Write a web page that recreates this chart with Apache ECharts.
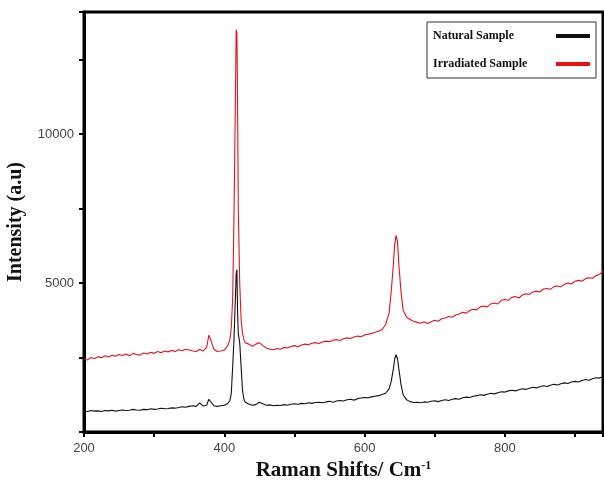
<!DOCTYPE html>
<html>
<head>
<meta charset="UTF-8">
<title>Raman</title>
<script src="https://cdn.jsdelivr.net/npm/echarts@6/dist/echarts.min.js"></script>
<style>
  html, body { margin: 0; padding: 0; background: #fff; }
  #main { width: 604px; height: 482px; }
</style>
</head>
<body>
<div id="main"></div>
<script>
// Raman shift (cm-1)
var shifts = [
  200, 205, 210, 215, 220, 225, 230, 235, 240, 245,
  250, 255, 260, 265, 270, 275, 280, 285, 290, 295,
  300, 305, 310, 315, 320, 325, 330, 335, 340, 345,
  350, 355,
  360, 365, 370, 375, 378, 380, 385, 390, 395, 400,
  405, 408, 410, 412, 414, 416, 417, 418, 419, 420,
  422, 424, 426, 428, 430, 435, 440, 445, 450, 455,
  460,
  465, 470, 475, 480, 485, 490, 495, 500, 505, 510,
  515, 520, 525, 530, 535, 540, 545, 550, 555, 560,
  565, 570, 575, 580, 585, 590, 595, 600, 605, 610,
  615, 620, 625,
  630, 635, 638, 641, 643, 645, 647, 649, 652, 655, 660,
  665, 670, 675, 680, 685, 690, 695, 700, 705, 710,
  715, 720, 725, 730, 735, 740, 745, 750, 755, 760,
  765, 770, 775, 780, 785, 790, 795, 800, 805, 810,
  815, 820, 825, 830, 835, 840, 845, 850, 855, 860,
  865, 870, 875, 880, 885, 890, 895, 900, 905, 910,
  915, 920, 925, 930, 935, 940
];

var natural = [
  700, 690, 720, 700, 710, 690, 720, 710, 730, 700,
  720, 740, 720, 730, 760, 740, 730, 760, 750, 780,
  760, 770, 800, 780, 790, 810, 800, 820, 850, 830,
  860, 880,
  860, 980, 870, 900, 1100, 1060, 880, 860, 880, 900,
  960, 1050, 1300, 2200, 3200, 4600, 5300, 5450, 4000, 3300,
  3000, 2200, 1400, 1100, 1000, 940, 900, 920, 1000, 950,
  900,
  910, 880, 900, 890, 920, 900, 930, 950, 930, 960,
  950, 980, 960, 990, 1000, 980, 1010, 1030, 1000, 1040,
  1060, 1040, 1080, 1100, 1070, 1120, 1140, 1160, 1150, 1180,
  1200, 1220, 1260,
  1300, 1450, 1700, 2100, 2450, 2600, 2450, 2100, 1600, 1250, 1080,
  1020, 990, 1000, 980, 1010, 1000, 1030, 1050, 1020, 1060,
  1080, 1060, 1100, 1120, 1100, 1150, 1170, 1160, 1200, 1220,
  1250, 1230, 1270, 1300, 1280, 1320, 1350, 1340, 1380, 1400,
  1380, 1420, 1450, 1430, 1470, 1500, 1480, 1520, 1550, 1530,
  1570, 1600, 1580, 1620, 1650, 1630, 1680, 1700, 1680, 1730,
  1760, 1740, 1790, 1820, 1810, 1860
];

var irradiated = [
  2450, 2420, 2500, 2470, 2530, 2490, 2560, 2520, 2580, 2540,
  2600, 2570, 2620, 2560, 2640, 2600, 2580, 2650, 2620, 2680,
  2640, 2700, 2660, 2720, 2690, 2740, 2700, 2760, 2730, 2780,
  2750, 2720,
  2700, 2780, 2720, 2850, 3250, 3150, 2780, 2700, 2720, 2750,
  2900, 3100, 3500, 4500, 7500, 11500, 13500, 13400, 11000, 7500,
  5000, 3800, 3300, 3100, 3000, 2950, 2880, 2950, 3000, 2900,
  2820,
  2780, 2760, 2800, 2780, 2840, 2820, 2870, 2900, 2860, 2920,
  2950, 2930, 2980, 3000, 2970, 3020, 3050, 3030, 3080, 3100,
  3070, 3130, 3160, 3140, 3190, 3220, 3200, 3260, 3280, 3310,
  3350, 3380, 3440,
  3600, 4000, 4700, 5600, 6300, 6600, 6400, 5600, 4700, 4100, 3850,
  3780, 3720, 3680, 3650, 3700, 3640, 3700, 3750, 3720, 3800,
  3830, 3880, 3850, 3930, 3960, 4020, 3990, 4080, 4120, 4100,
  4200, 4230, 4200, 4300, 4330, 4300, 4420, 4450, 4420, 4520,
  4550, 4500, 4600, 4640, 4620, 4700, 4730, 4700, 4800, 4820,
  4790, 4880, 4900, 4870, 4960, 5000, 4970, 5060, 5090, 5060,
  5150, 5180, 5160, 5250, 5290, 5400
];

var xLabels = [200, 400, 600, 800];
var yLabels = [5000, 10000];

function pairs(xs, ys) {
  var out = [];
  for (var i = 0; i < xs.length; i++) out.push([xs[i], ys[i]]);
  return out;
}

var chart = echarts.init(document.getElementById('main'));

var serif = '"Liberation Serif", "DejaVu Serif", serif';
var sans = '"Liberation Sans", Arial, sans-serif';

var option = {
  animation: false,
  grid: {
    left: 84, right: 1, top: 12, bottom: 50,
    outerBoundsMode: 'none',
    containLabel: false,
    show: true, borderColor: '#000', borderWidth: 3
  },
  legend: {
    orient: 'vertical',
    right: 8, top: 22,
    align: 'right',
    padding: [8, 6, 8, 6],
    itemGap: 16,
    itemWidth: 34,
    itemHeight: 4,
    borderColor: '#333',
    borderWidth: 1,
    icon: 'rect',
    formatter: '{t|{name}}',
    textStyle: {
      fontFamily: serif, fontWeight: 'bold', fontSize: 12, color: '#111',
      rich: { t: { fontFamily: serif, fontWeight: 'bold', fontSize: 12, color: '#111', width: 118, align: 'left' } }
    },
    data: ['Natural Sample', 'Irradiated Sample']
  },
  xAxis: {
    type: 'value',
    min: 200, max: 940, interval: 100,
    name: 'Raman Shifts/ Cm{sup|-1}',
    nameLocation: 'middle',
    nameGap: 26,
    nameTextStyle: {
      fontFamily: serif, fontWeight: 'bold', fontSize: 21, color: '#111',
      rich: { sup: { fontFamily: serif, fontWeight: 'bold', fontSize: 12, color: '#111', verticalAlign: 'top', padding: [0, 0, 10, 0] } }
    },
    axisLine: { lineStyle: { color: '#000', width: 3 } },
    axisTick: { inside: false, length: 5, lineStyle: { color: '#000', width: 2 } },
    axisLabel: {
      margin: 10, fontFamily: sans, fontSize: 13, color: '#444',
      formatter: function (v) { return xLabels.indexOf(v) >= 0 ? String(v) : ''; }
    },
    splitLine: { show: false }
  },
  yAxis: {
    type: 'value',
    min: 0, max: 14100, interval: 2500,
    name: 'Intensity (a.u)',
    nameLocation: 'middle',
    nameGap: 58,
    nameTextStyle: { fontFamily: serif, fontWeight: 'bold', fontSize: 20, color: '#111' },
    axisLine: { lineStyle: { color: '#000', width: 3 } },
    axisTick: { inside: false, length: 5, lineStyle: { color: '#000', width: 2 } },
    axisLabel: {
      margin: 10, fontFamily: sans, fontSize: 13, color: '#444',
      formatter: function (v) { return yLabels.indexOf(v) >= 0 ? String(v) : ''; }
    },
    splitLine: { show: false }
  },
  series: [
    {
      name: 'Natural Sample',
      type: 'line',
      showSymbol: false,
      data: pairs(shifts, natural),
      lineStyle: { color: '#111', width: 1.1 },
      itemStyle: { color: '#111' }
    },
    {
      name: 'Irradiated Sample',
      type: 'line',
      showSymbol: false,
      data: pairs(shifts, irradiated),
      lineStyle: { color: '#e8101a', width: 1.1 },
      itemStyle: { color: '#ee1111' }
    }
  ]
};

chart.setOption(option);
</script>
</body>
</html>
